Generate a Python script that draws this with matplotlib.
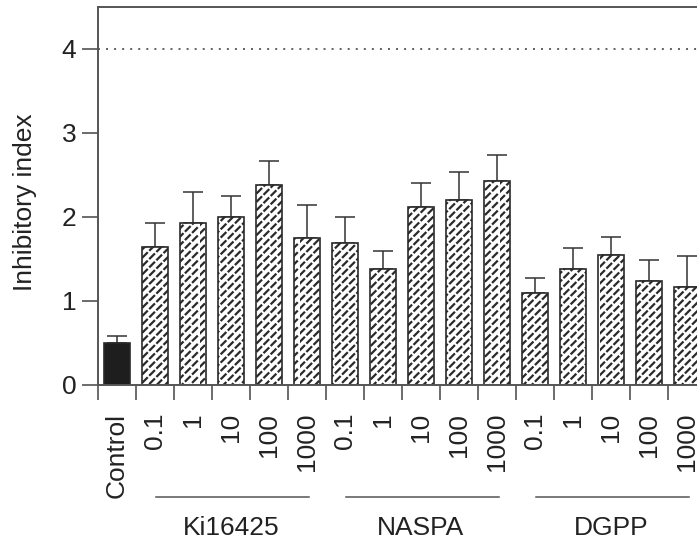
import numpy as np
import matplotlib
matplotlib.use("Agg")
import matplotlib.pyplot as plt
import matplotlib.hatch as mhatch
from matplotlib.path import Path
import matplotlib.transforms as mtransforms

# grupos e concentrações
grupos = ["Ki16425", "NASPA", "DGPP"]
concentracoes = ["0.1", "1", "10", "100", "1000"]
rotulos = ["Control"] + concentracoes * 3

# média do índice inibitório (Control primeiro)
medias = [0.50,
          1.64, 1.93, 2.00, 2.38, 1.75,
          1.69, 1.38, 2.12, 2.20, 2.43,
          1.09, 1.38, 1.55, 1.24, 1.17]

# topo da barra de erro
topos_erro = [0.58,
              1.93, 2.30, 2.25, 2.67, 2.14,
              2.00, 1.60, 2.40, 2.54, 2.74,
              1.27, 1.63, 1.76, 1.49, 1.54]

linha_ref = 4.0


# hachura diagonal tracejada (substitui o padrão '/')
class DiagonalTracejada(mhatch.HatchPatternBase):
    def __init__(self, hatch, density):
        n = hatch.count('/')
        self.linhas = 2 * 12 * n + 1
        self.ntraco = 14
        self.frac = 0.58
        self.num_vertices = self.linhas * self.ntraco * 2 if n else 0

    def set_vertices_and_codes(self, vertices, codes):
        inicios = np.arange(self.ntraco) / self.ntraco
        fins = inicios + self.frac / self.ntraco
        i = 0
        for c in np.linspace(-1, 1, self.linhas):
            for x0, x1 in zip(inicios, fins):
                vertices[i] = (x0, x0 + c)
                vertices[i + 1] = (x1, x1 + c)
                codes[i] = Path.MOVETO
                codes[i + 1] = Path.LINETO
                i += 2


mhatch._hatch_types = [DiagonalTracejada if t is mhatch.NorthEastHatch else t
                       for t in mhatch._hatch_types]

plt.rcParams['font.family'] = ['Liberation Sans', 'DejaVu Sans']
plt.rcParams['font.size'] = 19
plt.rcParams['hatch.linewidth'] = 1.6
plt.rcParams['hatch.color'] = 'black'
plt.rcParams['lines.scale_dashes'] = False

cinza = '#444444'
texto = '#222222'

fig = plt.figure(figsize=(6.97, 5.44), dpi=100)
ax = fig.add_axes([0.1406, 0.2923, 0.8723, 0.6949])

x = np.arange(len(medias))
erro_sup = np.array(topos_erro) - np.array(medias)
erro = [np.zeros(len(medias)), erro_sup]

cores = ['#1e1e1e'] + ['white'] * 15
hachuras = [None] + ['/'] * 15
barras = ax.bar(x, medias, width=0.7, color=cores, edgecolor='#2a2a2a',
                linewidth=1.2, zorder=2)
for b, h in zip(barras, hachuras):
    if h:
        b.set_hatch(h)

ax.errorbar(x, medias, yerr=erro, fmt='none', ecolor='#333333',
            elinewidth=1.1, capsize=7.2, capthick=1.1, zorder=1)

# linha pontilhada em 4
ax.axhline(linha_ref, color=cinza, linewidth=1.2, dashes=(1.4, 4.4), zorder=0)

ax.set_xlim(-0.5, len(medias) - 0.5)
ax.set_ylim(0, 4.5)

# ticks
ax.set_yticks([0, 1, 2, 3, 4])
ax.tick_params(axis='y', length=11.5, width=1.1, color=cinza, pad=4,
               labelcolor=texto)
ax.set_xticks(x)
ax.set_xticklabels(rotulos, rotation=90, color=texto)
ax.tick_params(axis='x', which='major', length=0, pad=20)
ax.set_xticks(np.arange(-0.5, len(medias)), minor=True)
ax.tick_params(axis='x', which='minor', length=10.8, width=1.1, color=cinza)

for lado in ['left', 'top', 'bottom']:
    ax.spines[lado].set_color('#555555')
    ax.spines[lado].set_linewidth(1.4)
ax.spines['right'].set_visible(False)

ax.set_ylabel('Inhibitory index', color=texto)
ax.yaxis.set_label_coords(-0.10, 0.484)

# linhas e nomes dos grupos
trans = mtransforms.blended_transform_factory(ax.transData, ax.transAxes)
for i, g in enumerate(grupos):
    ini = 1 + 5 * i
    ax.plot([ini + 0.02, ini + 4.05], [-0.296, -0.296], color='#555555',
            linewidth=1.1, transform=trans, clip_on=False)
    ax.text(ini + 2, -0.378, g, transform=trans, ha='center', va='center',
            color=texto)

fig.savefig('out.png', dpi=100)
